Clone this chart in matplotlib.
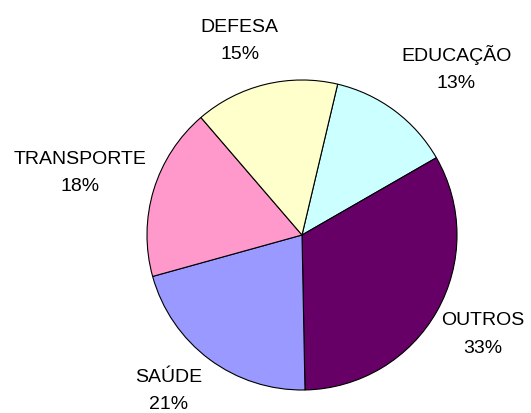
import numpy as np
import matplotlib.pyplot as plt

plt.rcParams['font.family'] = ['Liberation Sans', 'DejaVu Sans']

categories = ['EDUCAÇÃO', 'OUTROS', 'SAÚDE', 'TRANSPORTE', 'DEFESA']
shares = [13, 33, 21, 18, 15]
colors = ['#CCFFFF', '#660066', '#9999FF', '#FF99CC', '#FFFFCC']

# label placement (radius in pie units, angle tweak in degrees)
label_r = [1.47, 1.33, 1.32, 1.49, 1.32]
label_dtheta = [-6, 1, -4, 1, 4]

fig = plt.figure(figsize=(5.31, 4.14), dpi=100)
ax = fig.add_axes([0, 0, 1, 1])

wedges, _ = ax.pie(shares, colors=colors, startangle=76.7, counterclock=False,
                   radius=1.0, center=(0, 0),
                   wedgeprops=dict(edgecolor='black', linewidth=0.8))

for w, name, val, r, dt in zip(wedges, categories, shares, label_r, label_dtheta):
    mid = np.deg2rad((w.theta1 + w.theta2) / 2 + dt)
    ax.text(r * np.cos(mid), r * np.sin(mid), f"{name}\n{val}%",
            ha='center', va='center', fontsize=14, linespacing=1.8,
            color='black')

ax.set_xlim(-302 / 155, (531 - 302) / 155)
ax.set_ylim(-(414 - 236) / 155, 236 / 155)
ax.set_aspect('equal')
ax.axis('off')

fig.savefig('out.png', dpi=100, facecolor='white')
